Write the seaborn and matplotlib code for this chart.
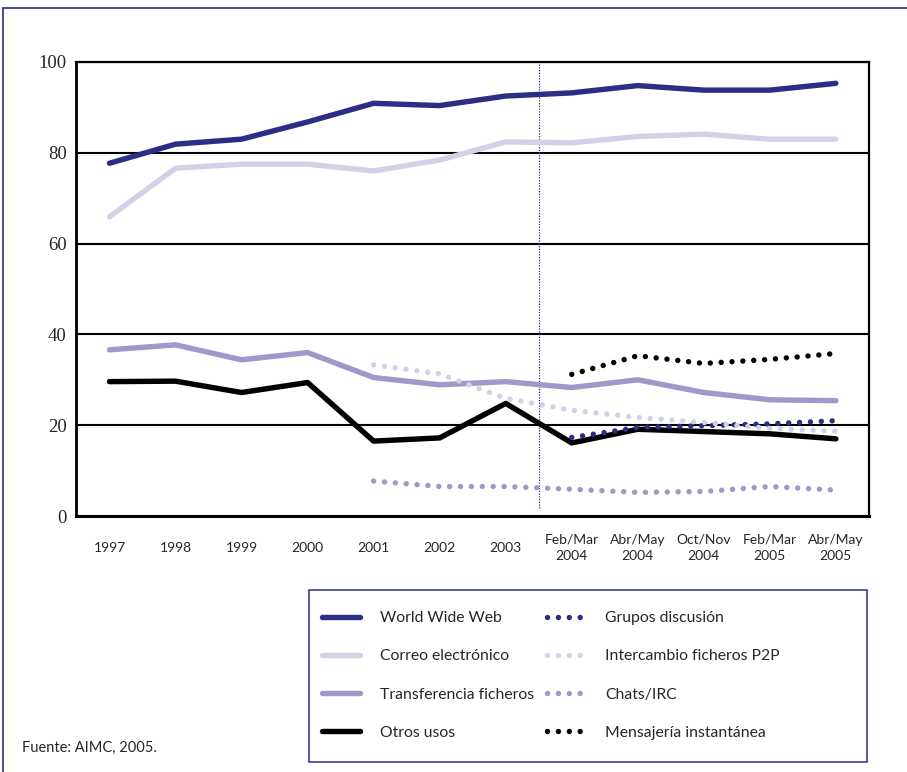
import numpy as np
import pandas as pd
import matplotlib.pyplot as plt
import seaborn as sns
from matplotlib.lines import Line2D
from matplotlib.patches import Rectangle

# -------------------------------
# DATOS (% usuarios)
# -------------------------------
categorias = ["1997", "1998", "1999", "2000", "2001", "2002", "2003",
              "Feb/Mar\n2004", "Abr/May\n2004", "Oct/Nov\n2004",
              "Feb/Mar\n2005", "Abr/May\n2005"]
www = [77.7, 81.9, 83.0, 86.8, 90.9, 90.4, 92.5, 93.2, 94.8, 93.8, 93.8, 95.3]
correo = [65.9, 76.6, 77.5, 77.5, 76.0, 78.4, 82.4, 82.2, 83.6, 84.1, 83.0, 83.0]
transferencia = [36.6, 37.7, 34.4, 36.0, 30.5, 28.9, 29.6, 28.3, 30.0, 27.2, 25.6, 25.4]
otros = [29.6, 29.7, 27.2, 29.4, 16.5, 17.2, 24.8, 16.1, 19.1, 18.6, 18.1, 17.0]
grupos = [np.nan] * 7 + [17.3, 19.5, 19.9, 20.3, 21.0]
p2p = [np.nan] * 4 + [33.3, 31.3, 25.9, 23.3, 21.7, 20.6, 19.3, 18.7]
chats = [np.nan] * 4 + [7.7, 6.5, 6.5, 5.9, 5.2, 5.4, 6.5, 5.7]
mensajeria = [np.nan] * 7 + [31.2, 35.3, 33.6, 34.5, 35.8]

series = {
    "World Wide Web": www,
    "Correo electrónico": correo,
    "Transferencia ficheros": transferencia,
    "Otros usos": otros,
    "Grupos discusión": grupos,
    "Intercambio ficheros P2P": p2p,
    "Chats/IRC": chats,
    "Mensajería instantánea": mensajeria,
}

NAVY = "#2A2E85"
LIGHT = "#D3D1E8"
MID = "#9D99C9"
palette = dict(zip(series, [NAVY, LIGHT, MID, "black", NAVY, LIGHT, MID, "black"]))
dotted = (0.01, 2.0)
dashes = dict(zip(series, ["", "", "", "", dotted, dotted, dotted, dotted]))

# long format
rows = []
for nombre, vals in series.items():
    for i, v in enumerate(vals):
        rows.append({"pos": i, "valor": v, "serie": nombre})
df = pd.DataFrame(rows)

# -------------------------------
# FIGURA
# -------------------------------
sns.set_style("white")
plt.rcParams["font.family"] = ["Lato", "DejaVu Sans"]

fig = plt.figure(figsize=(9.07, 7.72), dpi=100)
ax = fig.add_axes([0.0843, 0.3316, 0.958 - 0.0843, 0.9197 - 0.3316])

sns.lineplot(data=df, x="pos", y="valor", hue="serie", style="serie",
             hue_order=list(series), style_order=list(series),
             palette=palette, dashes=dashes, lw=3.9, legend=False, ax=ax, zorder=3)
lineas = list(ax.lines[:len(series)])
for ln in lineas:
    ln.set_dash_capstyle("round")
    ln.set_solid_capstyle("round")
    ln.set_solid_joinstyle("round")

ax.axvline(6.5, ymin=0.018, ymax=1, color=NAVY, lw=0.9, ls=(0, (1, 1.2)), zorder=2)

ax.set_xlim(-0.5, len(categorias) - 0.5)
ax.set_ylim(0, 100)
ax.set_yticks([0, 20, 40, 60, 80, 100])
ax.grid(axis="y", color="black", lw=1.5, zorder=1)
ax.grid(axis="x", visible=False)
ax.set_axisbelow(True)

ax.set_xticks(np.arange(len(categorias) - 1) + 0.5)
ax.set_xticklabels([])
ax.set_xticks(np.arange(len(categorias)), minor=True)
ax.set_xticklabels(categorias, minor=True, fontsize=10, linespacing=1.4)
ax.tick_params(axis="x", which="major", direction="in", length=7, width=1.1, color="black")
ax.tick_params(axis="x", which="minor", length=0, pad=23)
for t in ax.get_xticklabels(minor=True):
    t.set_verticalalignment("center")
    t.set_multialignment("center")

ax.tick_params(axis="y", length=0, pad=7)
for t in ax.get_yticklabels():
    t.set_fontfamily("Liberation Serif")
    t.set_fontsize(13.5)

ax.set_xlabel("")
ax.set_ylabel("")
for lado, sp in ax.spines.items():
    sp.set_color("black")
    sp.set_linewidth(1.6)
ax.spines["bottom"].set_linewidth(2.2)
ax.spines["left"].set_linewidth(2.0)

# leyenda con marco propio
fig.patches.append(Rectangle((309 / 907, 10 / 772), 558 / 907, 172 / 772,
                             transform=fig.transFigure, fill=False,
                             edgecolor=NAVY, lw=1.1))
fig.legend(lineas, list(series), ncol=2, frameon=False, fontsize=11.3,
           loc="upper left", bbox_to_anchor=(322 / 907, 1 - 611 / 772),
           borderpad=0, borderaxespad=0, handlelength=2.45, handletextpad=1.25,
           labelspacing=1.55, columnspacing=0.8)

# marco exterior
fig.add_artist(Line2D([3 / 907, 1], [1 - 8 / 772, 1 - 8 / 772],
                      transform=fig.transFigure, color=NAVY, lw=1.2))
fig.add_artist(Line2D([3 / 907, 3 / 907], [0, 1 - 8 / 772],
                      transform=fig.transFigure, color=NAVY, lw=1.2))

fig.text(22 / 907, 24 / 772, "Fuente: AIMC, 2005.", fontsize=10.5, va="center")

fig.savefig("out.png", dpi=100)
